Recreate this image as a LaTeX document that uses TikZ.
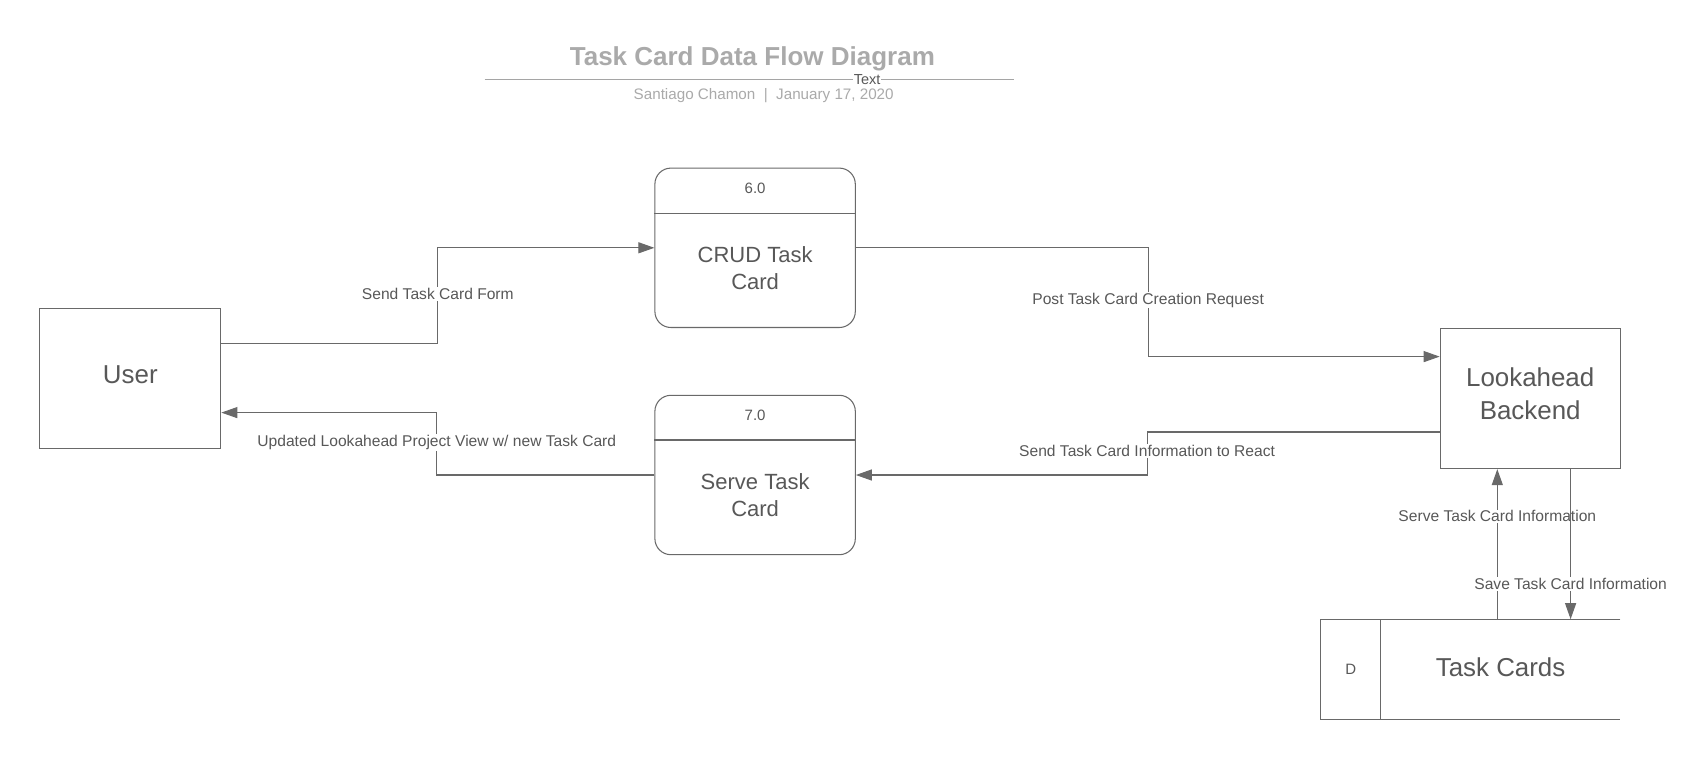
\documentclass[tikz,border=0pt]{standalone}
\usepackage{fontspec}
\setmainfont{Liberation Sans}
\usetikzlibrary{arrows.meta,calc}
\definecolor{lnc}{RGB}{105,105,105}
\definecolor{txc}{RGB}{88,88,88}
\definecolor{ttc}{RGB}{170,170,170}
\definecolor{tlc}{RGB}{165,165,165}
\tikzset{
  boxline/.style={draw=lnc, line width=1.05pt},
  entity/.style={boxline, rectangle},
  bigtext/.style={text=txc, font=\fontsize{25.9}{32.3}\selectfont, align=center, inner sep=0pt},
  proc/.style={boxline, rectangle, rounded corners=16pt, minimum width=200.4pt, minimum height=159.4pt},
  proctext/.style={text=txc, font=\fontsize{22}{27}\selectfont, align=center, inner sep=0pt},
  idtext/.style={text=txc, font=\fontsize{15}{17}\selectfont, inner sep=0pt},
  flow/.style={draw=lnc, line width=1.05pt, -{Triangle[length=16pt,width=11pt]}},
  flowlabel/.style={fill=white, text=txc, font=\fontsize{15.6}{18}\selectfont, inner sep=1pt},
}
\begin{document}
\begin{tikzpicture}[x=1pt,y=-1pt]
\useasboundingbox[fill=white] (0,0) rectangle (1689,760);

% title block
\node[text=ttc, font=\bfseries\fontsize{26}{30}\selectfont] (title) at (752.4,59.2) {Task Card Data Flow Diagram};
\coordinate (tl) at (484.7,79.7);
\coordinate (tr) at (1013.6,79.7);
\draw[draw=tlc, line width=1.05pt] (tl) -- (tr) node[pos=0.723, fill=white, inner sep=0.5pt, text=txc, font=\fontsize{14.5}{17}\selectfont] (ttext) {Text};
\node[text=ttc, font=\fontsize{15.2}{17}\selectfont] (sub) at (763.7,95.9) {Santiago Chamon \ | \ January 17, 2020};

% entities
\node[entity, minimum width=181pt, minimum height=140pt] (user) at (130.3,378.1) {};
\node[bigtext] (usertx) at ([yshift=3.3pt]user.center) {User};
\node[entity, minimum width=180pt, minimum height=140pt] (backend) at (1530.2,398.6) {};
\node[bigtext] (backendtx) at ([yshift=5pt]backend.center) {Lookahead\\Backend};

% processes
\node[proc] (crud) at (755.1,247.8) {};
\draw[boxline] ([yshift=-46.3pt]crud.north west) -- ([yshift=-46.3pt]crud.north east);
\node[idtext] (crudid) at ([yshift=-20.5pt]crud.north) {6.0};
\node[proctext] (crudtx) at ([yshift=-19.9pt]crud.center) {CRUD Task\\Card};

\node[proc] (serve) at (755.1,475.0) {};
\draw[boxline] ([yshift=-45.2pt]serve.north west) -- ([yshift=-45.2pt]serve.north east);
\node[idtext] (serveid) at ([yshift=-20.5pt]serve.north) {7.0};
\node[proctext] (servetx) at ([yshift=-19.9pt]serve.center) {Serve Task\\Card};

% data store
\node[minimum width=299.5pt, minimum height=100.2pt, inner sep=0pt] (store) at (1470.4,669.5) {};
\draw[boxline] (store.north east) -- (store.north west) -- (store.south west) -- (store.south east);
\draw[boxline] ([xshift=60.3pt]store.north west) -- ([xshift=60.3pt]store.south west);
\node[idtext] (storeid) at ([xshift=30.2pt]store.west) {D};
\node[bigtext] (storetx) at ([xshift=30.2pt,yshift=2pt]store.center) {Task Cards};

% flows
\draw[flow] ([yshift=34.5pt]user.east) -- ++(216.5,0) |- (crud.west)
  node[flowlabel, pos=0.26] {Send Task Card Form};
\draw[flow] (serve.west) -- ++(-217.6,0) |- ([yshift=-34.5pt]user.east)
  node[flowlabel, pos=0.26] {Updated Lookahead Project View w/ new Task Card};
\draw[flow] (crud.east) -- ++(292.3,0) |- ([yshift=42pt]backend.west)
  node[flowlabel, pos=0.24] {Post Task Card Creation Request};
\draw[flow] ([yshift=-33.4pt]backend.west) -- ++(-292.6,0) |- (serve.east)
  node[flowlabel, pos=0.22] {Send Task Card Information to React};
\draw[flow] ([xshift=26.9pt]store.north) -- ([xshift=26.9pt]store.north |- backend.south)
  node[flowlabel, pos=0.686] {Serve Task Card Information};
\draw[flow] ([xshift=40.4pt]backend.south) -- ([xshift=40.4pt]backend.south |- store.north)
  node[flowlabel, pos=0.764] {Save Task Card Information};
\end{tikzpicture}
\end{document}
